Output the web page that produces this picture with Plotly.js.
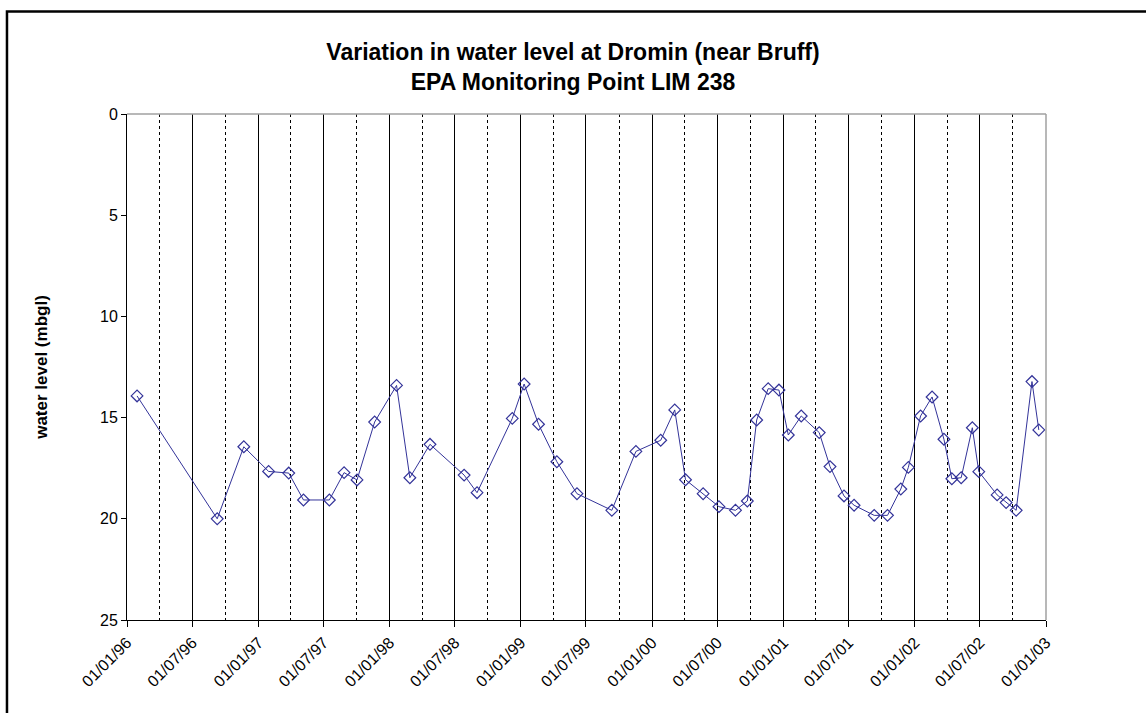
<!DOCTYPE html>
<html>
<head>
<meta charset="utf-8">
<script src="https://cdn.plot.ly/plotly-3.0.1.min.js"></script>
<style>
  html, body { margin: 0; padding: 0; background: #fff; }
  #chart { width: 1146px; height: 713px; }
</style>
</head>
<body>
<div id="chart"></div>
<script>
// Sample dates
const sampleDates = [
  '1996-01-29', '1996-09-08', '1996-11-21', '1997-01-29', '1997-03-26', '1997-05-06',
  '1997-07-17', '1997-08-27', '1997-10-02', '1997-11-20', '1998-01-20', '1998-02-26',
  '1998-04-23', '1998-07-27', '1998-09-01', '1998-12-08', '1999-01-10', '1999-02-19',
  '1999-04-11', '1999-06-06', '1999-09-11', '1999-11-17', '2000-01-25', '2000-03-04',
  '2000-04-03', '2000-05-22', '2000-07-05', '2000-08-20', '2000-09-22', '2000-10-18',
  '2000-11-19', '2000-12-19', '2001-01-14', '2001-02-19', '2001-04-10', '2001-05-10',
  '2001-06-18', '2001-07-16', '2001-09-10', '2001-10-17', '2001-11-23', '2001-12-14',
  '2002-01-17', '2002-02-18', '2002-03-23', '2002-04-14', '2002-05-10', '2002-06-10',
  '2002-06-28', '2002-08-18', '2002-09-12', '2002-10-10', '2002-11-23', '2002-12-12'
];

// Water level, metres below ground level
const waterLevel = [
  13.93, 20.00, 16.44, 17.66, 17.74, 19.07,
  19.07, 17.72, 18.08, 15.22, 13.41, 17.97,
  16.32, 17.84, 18.71, 15.04, 13.34, 15.33,
  17.18, 18.76, 19.58, 16.67, 16.12, 14.62,
  18.07, 18.76, 19.40, 19.58, 19.12, 15.12,
  13.57, 13.64, 15.86, 14.92, 15.74, 17.42,
  18.87, 19.33, 19.83, 19.83, 18.53, 17.46,
  14.92, 13.98, 16.07, 18.02, 17.97, 15.50,
  17.67, 18.82, 19.20, 19.58, 13.22, 15.61
];

const xRange = ['1996-01-01', '2003-01-01'];
const yTickValues = [0, 5, 10, 15, 20, 25];
const yTickLabels = ['0', '5', '10', '15', '20', '25'];

const titleLines = ['Variation in water level at Dromin (near Bruff)', 'EPA Monitoring Point LIM 238'];
const yTitle = 'water level (mbgl)';

const FONT = 'Liberation Sans, Arial, Helvetica, sans-serif';
const SERIES_COLOR = '#333399';

const trace = {
  type: 'scatter',
  mode: 'lines+markers',
  x: sampleDates,
  y: waterLevel,
  line: { color: SERIES_COLOR, width: 1 },
  marker: { symbol: 'diamond-open', size: 9, color: SERIES_COLOR, line: { width: 1.2, color: SERIES_COLOR } },
  showlegend: false,
  hoverinfo: 'x+y'
};

const layout = {
  width: 1146,
  height: 713,
  paper_bgcolor: '#ffffff',
  plot_bgcolor: '#ffffff',
  margin: { l: 127, r: 100, t: 114, b: 93, pad: 0 },
  font: { family: FONT, color: '#000000', size: 16 },
  title: {
    text: titleLines.join('<br>'),
    font: { family: FONT, size: 23, color: '#000000', weight: 'bold' },
    x: 0.5, xref: 'container', xanchor: 'center',
    y: 1 - 60 / 713, yref: 'container', yanchor: 'top'
  },
  xaxis: {
    type: 'date',
    range: xRange,
    tick0: '1996-01-01',
    dtick: 'M6',
    tickformat: '%d/%m/%y',
    tickangle: -45,
    tickfont: { family: FONT, size: 16, color: '#000000' },
    ticks: 'outside', ticklen: 6, tickwidth: 1, tickcolor: '#000000',
    showline: true, linecolor: '#000000', linewidth: 1,
    showgrid: true, gridcolor: '#000000', gridwidth: 1,
    minor: { dtick: 'M3', tick0: '1996-01-01', showgrid: true, gridcolor: '#000000', gridwidth: 1, griddash: '3px,3px', ticks: '' },
    zeroline: false,
    automargin: false,
    fixedrange: true
  },
  yaxis: {
    range: [25, 0],
    tickvals: yTickValues,
    ticktext: yTickLabels,
    tickfont: { family: FONT, size: 16, color: '#000000' },
    ticks: 'outside', ticklen: 5, tickwidth: 1, tickcolor: '#000000',
    showline: true, linecolor: '#000000', linewidth: 1,
    showgrid: false, zeroline: false,
    title: { text: yTitle, font: { family: FONT, size: 17, color: '#000000', weight: 'bold' }, standoff: 48 },
    automargin: false,
    fixedrange: true
  },
  shapes: [
    // outer chart frame (extends beyond the image on right/bottom)
    { type: 'rect', xref: 'paper', yref: 'paper', x0: -0.1306, x1: 1.25, y0: -0.35, y1: 1.2026,
      line: { color: '#000000', width: 2.5 }, fillcolor: 'rgba(0,0,0,0)', layer: 'above' },
    // plot area border (top and right, grey)
    { type: 'line', xref: 'paper', yref: 'paper', x0: 0, x1: 1, y0: 1, y1: 1,
      line: { color: '#a0a0a0', width: 1.5 }, layer: 'above' },
    { type: 'line', xref: 'paper', yref: 'paper', x0: 1, x1: 1, y0: 0, y1: 1,
      line: { color: '#a0a0a0', width: 1.5 }, layer: 'above' }
  ]
};

Plotly.newPlot('chart', [trace], layout, { displayModeBar: false, staticPlot: true });
</script>
</body>
</html>
